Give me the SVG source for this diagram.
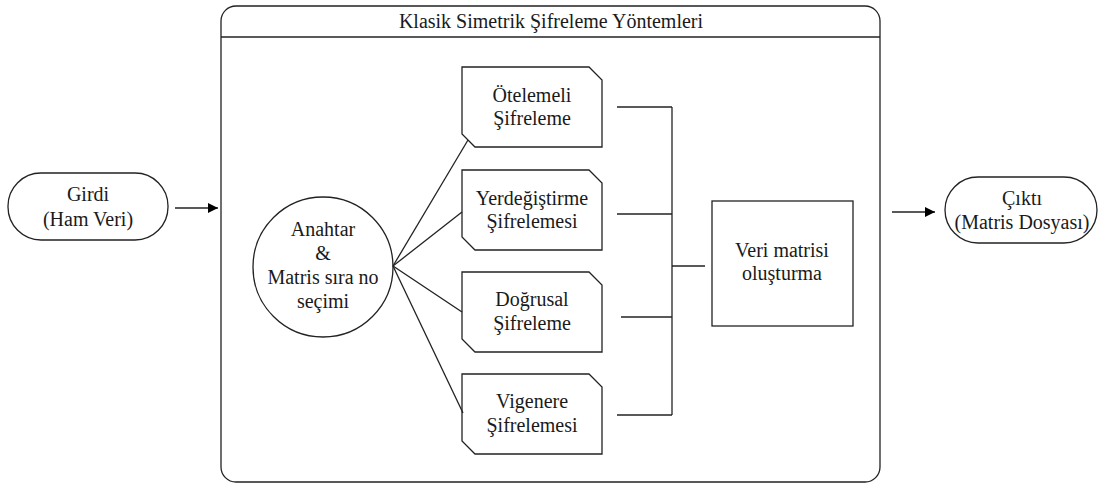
<svg xmlns="http://www.w3.org/2000/svg" width="1100" height="487" viewBox="0 0 1100 487">
<defs>
<marker id="arr" viewBox="0 0 10 10" refX="10" refY="5" markerWidth="10" markerHeight="10" markerUnits="userSpaceOnUse" orient="auto"><path d="M0,0 L10,5 L0,10 z" fill="#000"/></marker>
</defs>
<style>
.t{font-family:'Liberation Serif','DejaVu Serif',serif;font-size:20px;fill:#1a1a1a;text-anchor:middle}
.s{fill:#fff;stroke:#222;stroke-width:1.3}
.c{fill:none;stroke:#222;stroke-width:1.3}
</style>
<rect width="1100" height="487" fill="#fff"/>
<g id="container">
<rect class="s" x="221" y="6" width="659" height="476" rx="15"/>
<line class="c" x1="221" y1="37" x2="880" y2="37"/>
<text class="t" x="551" y="28">Klasik Simetrik Şifreleme Yöntemleri</text>
</g>
<g id="girdi">
<rect class="s" x="8" y="173" width="160" height="67" rx="33"/>
<text class="t" x="88" y="201">Girdi</text>
<text class="t" x="88" y="226">(Ham Veri)</text>
</g>
<g id="cikti">
<rect class="s" x="945" y="177" width="152" height="66" rx="33"/>
<text class="t" x="1022" y="205">Çıktı</text>
<text class="t" x="1022" y="229">(Matris Dosyası)</text>
</g>
<g id="anahtar">
<circle class="s" cx="323" cy="267" r="70"/>
<text class="t" x="323" y="236">Anahtar</text>
<text class="t" x="323" y="260">&amp;</text>
<text class="t" x="323" y="284">Matris sıra no</text>
<text class="t" x="323" y="308">seçimi</text>
</g>
<g id="oteleme">
<path class="s" d="M462,67 H589 L602,80 V147 H475 L462,134 Z"/>
<text class="t" x="532" y="102">Ötelemeli</text>
<text class="t" x="532" y="125">Şifreleme</text>
</g>
<g id="yerdegistirme">
<path class="s" d="M462,170 H589 L602,183 V250 H475 L462,237 Z"/>
<text class="t" x="532" y="205">Yerdeğiştirme</text>
<text class="t" x="532" y="228">Şifrelemesi</text>
</g>
<g id="dogrusal">
<path class="s" d="M462,272 H589 L602,285 V352 H475 L462,339 Z"/>
<text class="t" x="532" y="306">Doğrusal</text>
<text class="t" x="532" y="330">Şifreleme</text>
</g>
<g id="vigenere">
<path class="s" d="M462,374 H589 L602,387 V454 H475 L462,441 Z"/>
<text class="t" x="532" y="408">Vigenere</text>
<text class="t" x="532" y="432">Şifrelemesi</text>
</g>
<g id="veri">
<rect class="s" x="712" y="201" width="141" height="125"/>
<text class="t" x="782" y="257">Veri matrisi</text>
<text class="t" x="782" y="280">oluşturma</text>
</g>
<g id="connectors">
<line class="c" x1="175" y1="208" x2="218" y2="208" marker-end="url(#arr)"/>
<line class="c" x1="892" y1="212" x2="935" y2="212" marker-end="url(#arr)"/>
<line class="c" x1="393" y1="266" x2="468" y2="140"/>
<line class="c" x1="393" y1="266" x2="462" y2="212"/>
<line class="c" x1="393" y1="266" x2="462" y2="312"/>
<line class="c" x1="393" y1="266" x2="463" y2="413"/>
<line class="c" x1="617" y1="107" x2="672" y2="107"/>
<line class="c" x1="617" y1="214" x2="672" y2="214"/>
<line class="c" x1="621" y1="317" x2="672" y2="317"/>
<line class="c" x1="617" y1="415" x2="672" y2="415"/>
<line class="c" x1="672" y1="107" x2="672" y2="415"/>
<line class="c" x1="672" y1="266" x2="705" y2="266"/>
</g>
</svg>
